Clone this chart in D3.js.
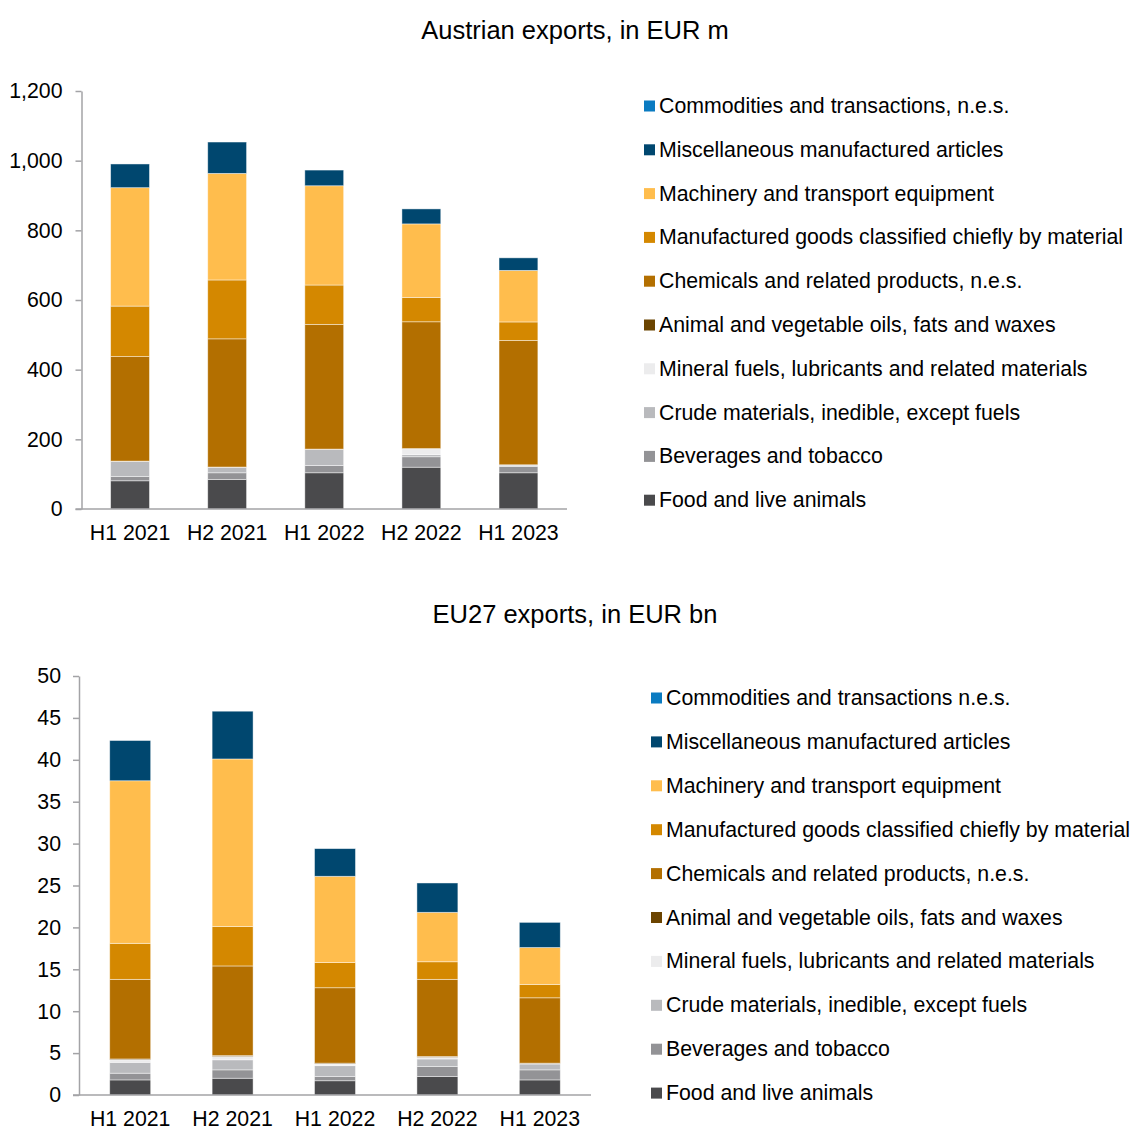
<!DOCTYPE html>
<html><head><meta charset="utf-8">
<script src="https://cdn.jsdelivr.net/npm/d3@7"></script>
<style>
html,body{margin:0;padding:0;background:#fff;}
svg{display:block;font-family:"Liberation Sans",Arial,sans-serif;}
</style></head>
<body>
<svg id="chart" width="1131" height="1129"></svg>
<script>
const categories = ["H1 2021","H2 2021","H1 2022","H2 2022","H1 2023"];

// Series keys (stack order, bottom to top)
const seriesKeys = ["food","beverages","crude","mineral","animal","chemicals","manufactured","machinery","misc","commodities"];
const seriesColors = ["#4a4a4c","#939396","#b9babd","#ececed","#6b4400","#b36f00","#d48800","#ffbd4d","#00476f","#0a7bc1"];

// Austrian exports, EUR m
const atFood         = [81, 85, 104, 120, 104];
const atBeverages    = [12, 19, 21, 30, 18];
const atCrude        = [43, 15, 46, 6, 4];
const atMineral      = [1, 1, 0.5, 17, 0.5];
const atAnimal       = [0.5, 0.5, 0.5, 0.5, 0.5];
const atChemicals    = [300, 368, 358, 364, 357];
const atManufactured = [145, 169, 113, 70, 53];
const atMachinery    = [340, 306, 285, 211, 148];
const atMisc         = [68, 90, 45, 43, 36];
const atCommodities  = [0, 0, 0, 0, 0];
const atLabels = ["Food and live animals","Beverages and tobacco","Crude materials, inedible, except fuels","Mineral fuels, lubricants and related materials","Animal and vegetable oils, fats and waxes","Chemicals and related products, n.e.s.","Manufactured goods classified chiefly by material","Machinery and transport equipment","Miscellaneous manufactured articles","Commodities and transactions, n.e.s."];
const atTicks = [0,200,400,600,800,1000,1200];

// EU27 exports, EUR bn
const euFood         = [1.8, 2.0, 1.7, 2.2, 1.8];
const euBeverages    = [0.8, 1.0, 0.5, 1.2, 1.2];
const euCrude        = [1.3, 1.2, 1.3, 0.9, 0.7];
const euMineral      = [0.3, 0.4, 0.2, 0.2, 0.05];
const euAnimal       = [0.1, 0.1, 0.1, 0.1, 0.05];
const euChemicals    = [9.5, 10.7, 9.0, 9.2, 7.8];
const euManufactured = [4.3, 4.7, 3.0, 2.1, 1.6];
const euMachinery    = [19.4, 20.0, 10.3, 5.9, 4.4];
const euMisc         = [4.8, 5.7, 3.3, 3.5, 3.0];
const euCommodities  = [0, 0, 0, 0, 0];
const euLabels = ["Food and live animals","Beverages and tobacco","Crude materials, inedible, except fuels","Mineral fuels, lubricants and related materials","Animal and vegetable oils, fats and waxes","Chemicals and related products, n.e.s.","Manufactured goods classified chiefly by material","Machinery and transport equipment","Miscellaneous manufactured articles","Commodities and transactions n.e.s."];
const euTicks = [0,5,10,15,20,25,30,35,40,45,50];

function buildRows(arrs){
  return categories.map((c,i)=>{
    const r = {cat:c};
    seriesKeys.forEach((k,j)=>{ r[k]=arrs[j][i]; });
    return r;
  });
}

const svg = d3.select("#chart");
const FONT = 21.3;
const axisColor = "#a3a3a6";

function drawChart(opt){
  const g = svg.append("g");
  g.append("text").attr("x",opt.titleX).attr("y",opt.titleY)
    .attr("text-anchor","middle").attr("dominant-baseline","central")
    .style("font-size","25.5px").attr("fill","#000").text(opt.title);

  const x = d3.scaleBand().domain(categories).range([opt.x0,opt.x1]).paddingInner(0.6).paddingOuter(0.3);
  const y = d3.scaleLinear().domain([0,opt.max]).range([opt.y0,opt.y1]);
  const stack = d3.stack().keys(seriesKeys)(opt.rows);

  stack.forEach((s,j)=>{
    g.append("g").selectAll("rect").data(s).join("rect")
      .attr("x",d=>x(d.data.cat))
      .attr("width",x.bandwidth())
      .attr("y",d=>y(d[1]))
      .attr("height",d=>Math.max(0,y(d[0])-y(d[1])))
      .attr("fill",seriesColors[j])
      .attr("stroke","rgba(255,255,255,0.55)")
      .attr("stroke-width",0.8);
  });

  // y axis
  const ya = g.append("g").attr("transform",`translate(${opt.x0},0)`)
    .call(d3.axisLeft(y).tickValues(opt.ticks).tickSize(6).tickSizeOuter(0).tickPadding(opt.yPad)
      .tickFormat(d3.format(",")));
  ya.select(".domain").attr("stroke",axisColor).attr("stroke-width",1.5);
  ya.selectAll(".tick line").attr("stroke",axisColor).attr("stroke-width",1.5);
  ya.selectAll("text").style("font-size",FONT+"px").attr("fill","#000").attr("font-family","Liberation Sans, Arial, sans-serif");

  // x axis
  const xa = g.append("g").attr("transform",`translate(0,${opt.y0})`)
    .call(d3.axisBottom(x).tickSize(0).tickPadding(16));
  xa.select(".domain").remove();
  g.append("line").attr("x1",opt.x0-6).attr("x2",opt.x1).attr("y1",opt.y0).attr("y2",opt.y0)
    .attr("stroke",axisColor).attr("stroke-width",1.5);
  xa.selectAll("text").style("font-size",FONT+"px").attr("fill","#000").attr("font-family","Liberation Sans, Arial, sans-serif");

  // legend (top to bottom: reversed stack order)
  const order = d3.range(seriesKeys.length).reverse();
  order.forEach((j,i)=>{
    const ly = opt.legY + i*opt.legStep;
    g.append("rect").attr("x",opt.legX).attr("y",ly-5.5).attr("width",11).attr("height",11).attr("fill",seriesColors[j]);
    g.append("text").attr("x",opt.legX+15).attr("y",ly).attr("dominant-baseline","central")
      .style("font-size",FONT+"px").attr("fill","#000").text(opt.labels[j]);
  });
}

drawChart({
  title:"Austrian exports, in EUR m", titleX:575, titleY:30,
  rows: buildRows([atFood,atBeverages,atCrude,atMineral,atAnimal,atChemicals,atManufactured,atMachinery,atMisc,atCommodities]),
  x0:81.5, x1:567, y0:509, y1:91, max:1200, ticks:atTicks, yPad:13,
  labels:atLabels, legX:644, legY:106, legStep:43.8
});

drawChart({
  title:"EU27 exports, in EUR bn", titleX:575, titleY:614,
  rows: buildRows([euFood,euBeverages,euCrude,euMineral,euAnimal,euChemicals,euManufactured,euMachinery,euMisc,euCommodities]),
  x0:79, x1:591, y0:1095, y1:676, max:50, ticks:euTicks, yPad:12,
  labels:euLabels, legX:651, legY:698, legStep:43.9
});
</script>
</body></html>
